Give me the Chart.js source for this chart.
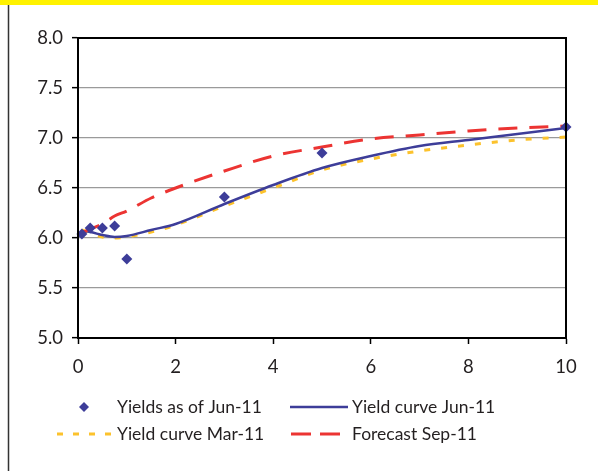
<!DOCTYPE html>
<html>
<head>
<meta charset="utf-8">
<script src="https://cdn.jsdelivr.net/npm/chart.js@4/dist/chart.umd.min.js"></script>
<style>
  html, body { margin: 0; padding: 0; background: #fff; }
  #wrap { width: 598px; height: 471px; position: relative; }
</style>
</head>
<body>
<div id="wrap"><canvas id="c" width="598" height="471"></canvas></div>
<script>
// Maturities (years) of the observed yields
const yieldTenors = [0.08, 0.25, 0.5, 0.75, 1, 3, 5, 10];
const yieldsJun11 = [6.04, 6.10, 6.10, 6.12, 5.79, 6.41, 6.85, 7.11];

// Maturities (years) for the fitted curves
const curveTenors = [0.08, 0.25, 0.5, 0.75, 1, 1.5, 2, 3, 4, 5, 6, 7, 8, 9, 10];
const curveJun11   = [6.07, 6.06, 6.03, 6.01, 6.02, 6.08, 6.14, 6.34, 6.53, 6.70, 6.82, 6.92, 6.98, 7.04, 7.10];
const curveMar11   = [6.08, 6.05, 6.01, 6.00, 6.01, 6.06, 6.13, 6.32, 6.50, 6.68, 6.79, 6.87, 6.93, 6.98, 7.01];
const forecastSep11 = [6.05, 6.09, 6.14, 6.22, 6.27, 6.40, 6.50, 6.67, 6.82, 6.91, 6.99, 7.03, 7.07, 7.10, 7.12];

const xTicks = [0, 2, 4, 6, 8, 10];
const yTicks = [5.0, 5.5, 6.0, 6.5, 7.0, 7.5, 8.0];

const seriesNames = ['Yields as of Jun-11', 'Yield curve Jun-11', 'Yield curve Mar-11', 'Forecast Sep-11'];

const FONT = 'Lato, "Open Sans", sans-serif';
const TEXT = '#231f20';
const NAVY = '#3d3d99';
const YELLOW = '#fcc22c';
const RED = '#ec3432';

const pts = (xs, ys) => xs.map((x, i) => ({ x, y: ys[i] }));

// Page frame: yellow band across the top and a thin rule on the left
const framePlugin = {
  id: 'frame',
  beforeDraw(chart) {
    const ctx = chart.ctx;
    ctx.save();
    ctx.fillStyle = '#fff';
    ctx.fillRect(0, 0, chart.width, chart.height);
    ctx.fillStyle = '#fff200';
    ctx.fillRect(0, 0, chart.width, 5);
    ctx.strokeStyle = '#333';
    ctx.lineWidth = 1.5;
    ctx.beginPath();
    ctx.moveTo(8.5, 5);
    ctx.lineTo(8.5, chart.height);
    ctx.stroke();
    ctx.restore();
  },
  afterDatasetsDraw(chart) {
    // black box round the plot area
    const a = chart.chartArea, ctx = chart.ctx;
    ctx.save();
    ctx.strokeStyle = '#000';
    ctx.lineWidth = 2;
    ctx.strokeRect(a.left, a.top, a.right - a.left, a.bottom - a.top);
    ctx.restore();
  }
};

// Two-column legend under the plot
const legendPlugin = {
  id: 'twoColLegend',
  afterDraw(chart) {
    const ctx = chart.ctx;
    const ds = chart.data.datasets;
    const slots = [
      { sx0: 79, sx1: 89, tx: 117, y: 407 },
      { sx0: 290, sx1: 348, tx: 352, y: 407 },
      { sx0: 57, sx1: 113, tx: 117, y: 434 },
      { sx0: 291, sx1: 341, tx: 352, y: 434 }
    ];
    ctx.save();
    ds.forEach((d, i) => {
      const s = slots[i];
      if (d.showLine === false) {
        const cx = (s.sx0 + s.sx1) / 2, r = 5;
        ctx.fillStyle = d.pointBackgroundColor;
        ctx.beginPath();
        ctx.moveTo(cx, s.y - r); ctx.lineTo(cx + r, s.y); ctx.lineTo(cx, s.y + r); ctx.lineTo(cx - r, s.y);
        ctx.closePath();
        ctx.fill();
      } else {
        ctx.strokeStyle = d.borderColor;
        ctx.lineWidth = d.borderWidth;
        ctx.setLineDash(d.legendDash || []);
        ctx.beginPath();
        ctx.moveTo(s.sx0, s.y);
        ctx.lineTo(s.sx1, s.y);
        ctx.stroke();
        ctx.setLineDash([]);
      }
      ctx.fillStyle = TEXT;
      ctx.font = '17.5px ' + FONT;
      ctx.textBaseline = 'middle';
      ctx.textAlign = 'left';
      ctx.fillText(d.label, s.tx, s.y);
    });
    ctx.restore();
  }
};

new Chart(document.getElementById('c'), {
  type: 'scatter',
  data: {
    datasets: [
      {
        label: seriesNames[0],
        data: pts(yieldTenors, yieldsJun11),
        showLine: false,
        pointStyle: 'rectRot',
        pointRadius: 5.5,
        pointBackgroundColor: NAVY,
        pointBorderColor: NAVY,
        pointBorderWidth: 0,
        clip: false,
        order: 0
      },
      {
        label: seriesNames[1],
        data: pts(curveTenors, curveJun11),
        showLine: true,
        borderColor: NAVY,
        borderWidth: 2.5,
        pointRadius: 0,
        cubicInterpolationMode: 'monotone',
        order: 2
      },
      {
        label: seriesNames[2],
        data: pts(curveTenors, curveMar11),
        showLine: true,
        borderColor: YELLOW,
        borderWidth: 3,
        borderDash: [6, 11],
        legendDash: [6, 10],
        pointRadius: 0,
        cubicInterpolationMode: 'monotone',
        order: 3
      },
      {
        label: seriesNames[3],
        data: pts(curveTenors, forecastSep11),
        showLine: true,
        borderColor: RED,
        borderWidth: 3,
        borderDash: [19, 12],
        legendDash: [20, 9],
        pointRadius: 0,
        cubicInterpolationMode: 'monotone',
        order: 1
      }
    ]
  },
  options: {
    responsive: false,
    animation: false,
    layout: { padding: { left: 0, top: 38, right: 32, bottom: 0 } },
    plugins: { legend: { display: false }, tooltip: { enabled: false } },
    scales: {
      x: {
        type: 'linear',
        min: 0, max: 10,
        afterBuildTicks(s) { s.ticks = xTicks.map(v => ({ value: v })); },
        afterFit(s) { s.height = 133; },
        ticks: { color: TEXT, font: { family: FONT, size: 18.5 }, padding: 12, callback: v => String(v) },
        grid: { drawOnChartArea: false, drawTicks: true, tickLength: 6, tickColor: '#000', tickWidth: 1.5 },
        border: { display: true, color: '#000', width: 2 }
      },
      y: {
        min: 5, max: 8,
        afterBuildTicks(s) { s.ticks = yTicks.map(v => ({ value: v })); },
        afterFit(s) { s.width = 78; },
        ticks: { color: TEXT, font: { family: FONT, size: 18.5 }, padding: 9, callback: v => Number(v).toFixed(1) },
        grid: { color: '#9a9a9a', lineWidth: 1.3, drawTicks: true, tickLength: 6, tickColor: '#000', tickWidth: 1.5 },
        border: { display: true, color: '#000', width: 2 }
      }
    }
  },
  plugins: [framePlugin, legendPlugin]
});
</script>
</body>
</html>
